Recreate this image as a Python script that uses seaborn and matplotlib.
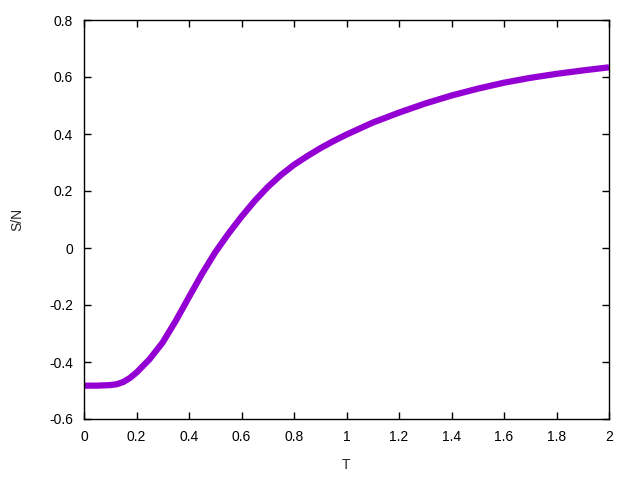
import numpy as np
import pandas as pd
import matplotlib
matplotlib.use("Agg")
import matplotlib.pyplot as plt
import seaborn as sns

# values
T = [0.0, 0.05, 0.10, 0.125, 0.15, 0.175, 0.20, 0.25, 0.30, 0.35,
     0.40, 0.45, 0.50, 0.55, 0.60, 0.65, 0.70, 0.75, 0.80, 0.85,
     0.90, 0.95, 1.00, 1.10, 1.20, 1.30, 1.40, 1.50, 1.60, 1.70,
     1.80, 1.90, 2.00]
S_N = [-0.483, -0.483, -0.481, -0.478, -0.470, -0.456, -0.437, -0.390, -0.331, -0.255,
       -0.172, -0.090, -0.015, 0.050, 0.110, 0.165, 0.214, 0.256, 0.292, 0.322,
       0.350, 0.375, 0.398, 0.440, 0.475, 0.507, 0.535, 0.559, 0.580, 0.597,
       0.611, 0.623, 0.634]

x_ticks = [0, 0.2, 0.4, 0.6, 0.8, 1, 1.2, 1.4, 1.6, 1.8, 2]
y_ticks = [-0.6, -0.4, -0.2, 0, 0.2, 0.4, 0.6, 0.8]

df = pd.DataFrame({"T": T, "S/N": S_N})

sns.set_style("ticks")
plt.rcParams["font.family"] = ["Liberation Sans", "DejaVu Sans"]

fig = plt.figure(figsize=(6.4, 4.8), dpi=100)
ax = fig.add_axes([84 / 640, 61 / 480, 525 / 640, 399 / 480])

sns.lineplot(data=df, x="T", y="S/N", ax=ax, color="#9400d3", linewidth=4.5,
             solid_capstyle="butt", solid_joinstyle="round")

ax.set_xlim(0, 2)
ax.set_ylim(-0.6, 0.8)
ax.set_xticks(x_ticks)
ax.set_yticks(y_ticks)
ax.set_xticklabels([f"{v:g}" for v in x_ticks])
ax.set_yticklabels([f"{v:g}" for v in y_ticks])
ax.tick_params(direction="in", top=True, right=True, length=5, width=1,
               labelsize=10, colors="black", pad=8)
for s in ax.spines.values():
    s.set_visible(True)
    s.set_linewidth(1)
    s.set_color("black")

ax.set_xlabel("T", fontsize=10, labelpad=10)
ax.set_ylabel("S/N", fontsize=10, labelpad=18)

fig.savefig("out.png", dpi=100)
